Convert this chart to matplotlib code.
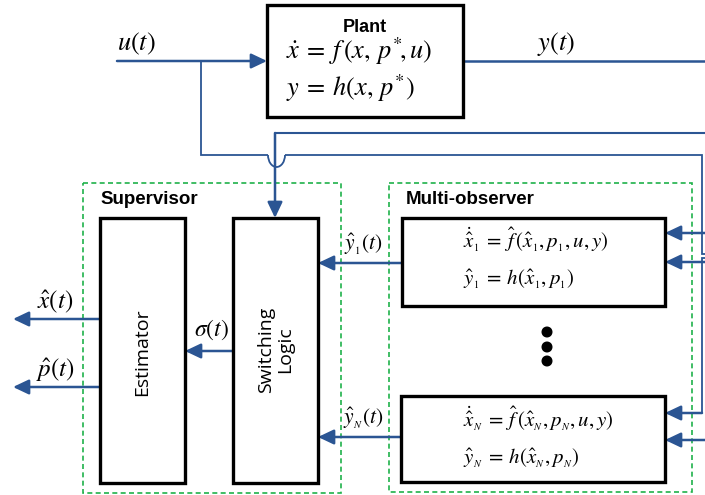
import matplotlib.pyplot as plt
from matplotlib.patches import Rectangle, Arc, Circle

plt.rcParams['mathtext.fontset'] = 'stix'

BLUE = '#2b5593'
GREEN = '#1fb24a'

# Block texts
plant_title = "Plant"
plant_eqs = [r'$\dot{x}\:=\:f\,(x,\, p^{*}\!,u)$', r'$y\:=\:h(x,\, p^{*})$']
obs1_eqs = [r'$\dot{\hat{x}}_{_1}\:=\:\hat{f}\,(\hat{x}_{_1}, p_{_1}, u, y)$',
            r'$\hat{y}_{_1}\:=\:h(\hat{x}_{_1}, p_{_1})$']
obsN_eqs = [r'$\dot{\hat{x}}_{_N}\:=\:\hat{f}\,(\hat{x}_{_N}, p_{_N}, u, y)$',
            r'$\hat{y}_{_N}\:=\:h(\hat{x}_{_N}, p_{_N})$']
group_labels = ["Supervisor", "Multi-observer"]
signal_labels = [r'$u(t)$', r'$y(t)$', r'$\hat{x}(t)$', r'$\hat{p}(t)$',
                 r'$\sigma(t)$', r'$\hat{y}_{_1}(t)$', r'$\hat{y}_{_N}(t)$']

fig = plt.figure(figsize=(7.05, 4.95), dpi=100)
ax = fig.add_axes([0, 0, 1, 1])
ax.set_xlim(0, 705)
ax.set_ylim(495, 0)
ax.axis('off')


def box(x0, y0, x1, y1):
    ax.add_patch(Rectangle((x0, y0), x1 - x0, y1 - y0, fill=False,
                           ec='black', lw=2.4, zorder=3))


def dashed(x0, y0, x1, y1):
    ax.add_patch(Rectangle((x0, y0), x1 - x0, y1 - y0, fill=False,
                           ec=GREEN, lw=1.2, ls=(0, (3, 2)), zorder=1))


def line(xs, ys, lw=1.5):
    ax.plot(xs, ys, color=BLUE, lw=lw, solid_capstyle='butt',
            solid_joinstyle='miter', zorder=2)


def arrow(x0, y0, x1, y1):
    ax.annotate('', xy=(x1, y1), xytext=(x0, y0),
                arrowprops=dict(arrowstyle='-|>,head_length=0.95,head_width=0.45',
                                mutation_scale=10, color=BLUE, lw=1.8,
                                shrinkA=0, shrinkB=0), zorder=2)


# dashed groups
dashed(83, 183, 341, 493)
dashed(389, 183, 692, 492)

# boxes
box(267, 5, 463, 117)
box(100, 218, 185, 483)
box(233, 218, 318, 483)
box(402, 218, 665, 306)
box(401, 396, 665, 482)

# plant
ax.text(365, 27, plant_title, ha='center', va='center', fontsize=13,
        fontweight='bold', family='Liberation Sans')
ax.text(286, 51, plant_eqs[0], ha='left', va='center', fontsize=19)
ax.text(286, 88, plant_eqs[1], ha='left', va='center', fontsize=19)

# u(t) input and branch
arrow(117, 61, 267, 61)
ax.text(117, 44, signal_labels[0], ha='left', va='center', fontsize=19)
line([201, 201, 268], [61, 155, 155], lw=1.3)
ax.add_patch(Arc((276.5, 155), 17, 24, theta1=0, theta2=180, color=BLUE,
                 lw=1.3, zorder=2))
line([285, 702, 702, 705], [155, 155, 254, 254], lw=1.3)

# y(t) output and feedback
line([463, 705], [61, 61], lw=1.8)
ax.text(556, 44, signal_labels[1], ha='center', va='center', fontsize=19)
line([705, 275], [133, 133], lw=1.5)
arrow(275, 133, 275, 218)

# inputs into observers
arrow(705, 233, 665, 233)
arrow(705, 262, 665, 262)
line([705, 702, 702], [258, 258, 413], lw=1.3)
arrow(702, 413, 665, 413)
arrow(705, 440, 665, 440)

# observer texts
ax.text(463, 240, obs1_eqs[0], ha='left', va='center', fontsize=15)
ax.text(463, 279, obs1_eqs[1], ha='left', va='center', fontsize=15)
ax.text(463, 419, obsN_eqs[0], ha='left', va='center', fontsize=15)
ax.text(463, 458, obsN_eqs[1], ha='left', va='center', fontsize=15)

# dots
for yc in [332, 347, 361]:
    ax.add_patch(Circle((547, yc), 4.8, color='black', zorder=3))

# observer outputs to switching logic
arrow(402, 263, 318, 263)
ax.text(363, 244, signal_labels[5], ha='center', va='center', fontsize=15.5)
arrow(401, 437, 318, 437)
ax.text(363, 418, signal_labels[6], ha='center', va='center', fontsize=15.5)

# switching logic -> estimator
arrow(233, 351, 185, 351)
ax.text(211, 330, signal_labels[4], ha='center', va='center', fontsize=17)

# estimator outputs
arrow(100, 319, 13, 319)
ax.text(55, 302, signal_labels[2], ha='center', va='center', fontsize=18)
arrow(100, 387, 13, 387)
ax.text(55, 370, signal_labels[3], ha='center', va='center', fontsize=18)

# block labels
ax.text(142.5, 352, "Estimator", ha='center', va='center', rotation=90,
        fontsize=14, family='Open Sans')
ax.text(275.5, 350, "Switching\nLogic", ha='center', va='center', rotation=90,
        fontsize=14, family='Open Sans', linespacing=1.1)
ax.text(100, 199, group_labels[0], ha='left', va='center', fontsize=13.5,
        fontweight='bold', family='Liberation Sans')
ax.text(406, 199, group_labels[1], ha='left', va='center', fontsize=13.5,
        fontweight='bold', family='Liberation Sans')

fig.savefig('out.png', dpi=100)
